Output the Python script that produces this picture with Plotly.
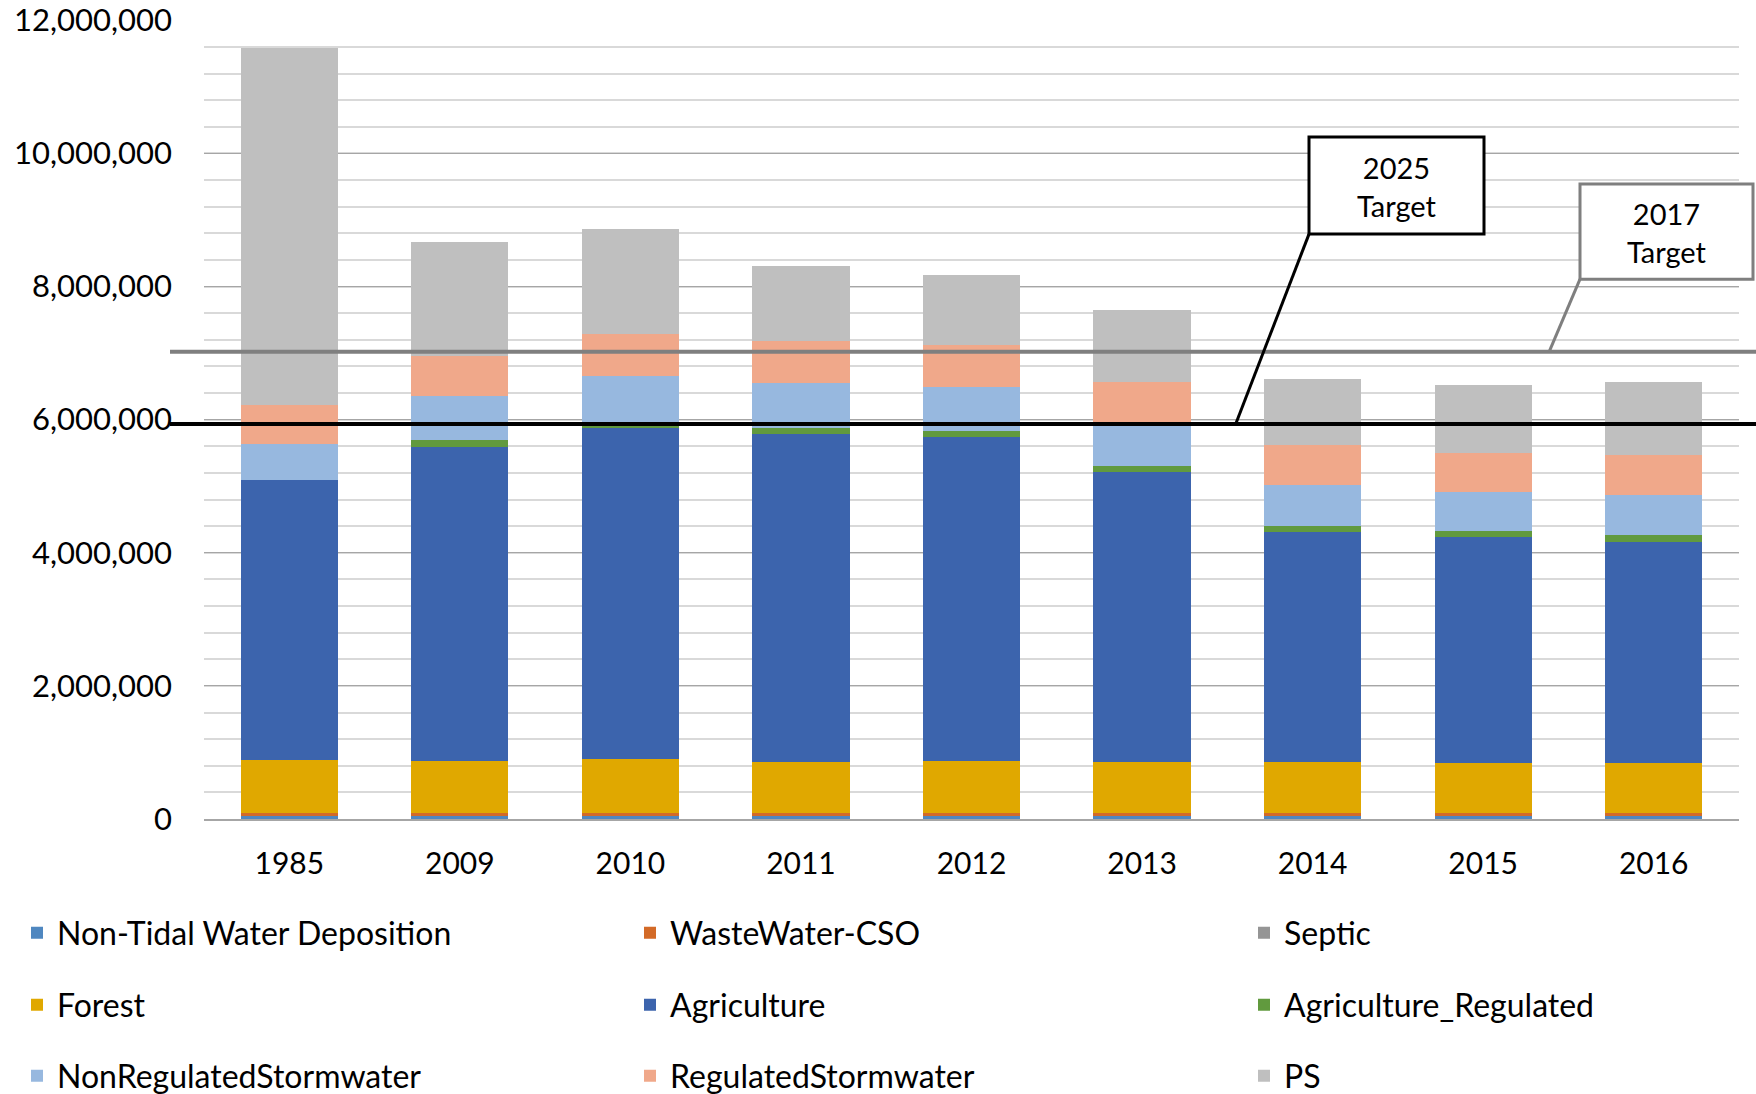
import plotly.graph_objects as go

W, H = 1756, 1094
ML, MR, MT, MB = 204, 17, 20, 275.4

years = ["1985", "2009", "2010", "2011", "2012", "2013", "2014", "2015", "2016"]

non_tidal = [45000, 45000, 45000, 45000, 45000, 45000, 45000, 45000, 45000]
wastewater_cso = [40000, 40000, 40000, 40000, 40000, 40000, 40000, 40000, 40000]
forest = [800000, 785000, 815000, 770000, 785000, 770000, 770000, 755000, 755000]
agriculture = [4208000, 4724000, 4975000, 4924000, 4864000, 4358000, 3461000, 3400000, 3320000]
agriculture_regulated = [0, 95000, 90000, 95000, 96000, 95000, 90000, 91000, 105000]
nonregulated_stormwater = [541000, 662000, 687000, 682000, 661000, 612000, 616000, 581000, 602000]
regulated_stormwater = [592000, 606000, 636000, 632000, 632000, 646000, 602000, 587000, 597000]
septic = [0, 0, 0, 0, 0, 0, 0, 0, 0]
ps = [5354000, 1705000, 1569000, 1113000, 1053000, 1088000, 993000, 1022000, 1102000]

target_2017 = 7020000
target_2025 = 5935000

y_ticks = [0, 2000000, 4000000, 6000000, 8000000, 10000000, 12000000]

# (name, values, color, legend slot) in stacking order; slot = (column, row)
series = [
    ("Non-Tidal Water Deposition", non_tidal, "#4f87c0", (0, 0)),
    ("WasteWater-CSO", wastewater_cso, "#d36a27", (1, 0)),
    ("Forest", forest, "#e0a800", (0, 1)),
    ("Agriculture", agriculture, "#3c64ad", (1, 1)),
    ("Agriculture_Regulated", agriculture_regulated, "#619a3e", (2, 1)),
    ("NonRegulatedStormwater", nonregulated_stormwater, "#97b8df", (0, 2)),
    ("RegulatedStormwater", regulated_stormwater, "#f0a88a", (1, 2)),
    ("Septic", septic, "#959595", (2, 0)),
    ("PS", ps, "#bfbfbf", (2, 2)),
]

FONT = "Lato"
leg_x = [17, 630, 1244]
leg_y = [933, 1005, 1076]

fig = go.Figure()
legends = {}
for i, (name, vals, color, (c, r)) in enumerate(series):
    key = "legend" if i == 0 else f"legend{i + 1}"
    fig.add_trace(go.Bar(x=years, y=vals, name=name, marker=dict(color=color, line=dict(width=0)),
                         legend=key, showlegend=True))
    legends[key] = dict(orientation="h", xref="container", yref="container",
                        x=leg_x[c] / W, y=1 - leg_y[r] / H, xanchor="left", yanchor="middle",
                        font=dict(family=FONT, size=32, color="#000000"), bgcolor="rgba(0,0,0,0)",
                        itemclick=False, itemdoubleclick=False)

pw = W - ML - MR
ph = H - MT - MB


def px(xp):
    return (xp - ML) / pw


def py(yp):
    return (H - MB - yp) / ph


shapes = []
shapes.append(dict(type="line", xref="paper", yref="y", x0=px(170), x1=px(1756),
                   y0=target_2017, y1=target_2017, line=dict(color="#7f7f7f", width=4), layer="above"))
shapes.append(dict(type="line", xref="paper", yref="y", x0=px(170), x1=px(1756),
                   y0=target_2025, y1=target_2025, line=dict(color="#000000", width=4), layer="above"))
shapes.append(dict(type="line", xref="paper", yref="paper", x0=px(1309), y0=py(234), x1=px(1236), y1=py(423),
                   line=dict(color="#000000", width=3), layer="above"))
shapes.append(dict(type="line", xref="paper", yref="paper", x0=px(1580), y0=py(279), x1=px(1549), y1=py(352),
                   line=dict(color="#7f7f7f", width=3), layer="above"))
shapes.append(dict(type="rect", xref="paper", yref="paper", x0=px(1309), x1=px(1484), y0=py(234), y1=py(137),
                   line=dict(color="#000000", width=3), fillcolor="white", layer="above"))
shapes.append(dict(type="rect", xref="paper", yref="paper", x0=px(1580), x1=px(1753), y0=py(279), y1=py(184),
                   line=dict(color="#7f7f7f", width=3), fillcolor="white", layer="above"))

annotations = [
    dict(xref="paper", yref="paper", x=px(1396.5), y=py(186), text="2025<br>Target", showarrow=False,
         font=dict(family=FONT, size=29, color="#000000"), align="center", xanchor="center", yanchor="middle"),
    dict(xref="paper", yref="paper", x=px(1666.5), y=py(232), text="2017<br>Target", showarrow=False,
         font=dict(family=FONT, size=29, color="#000000"), align="center", xanchor="center", yanchor="middle"),
]

fig.update_layout(
    width=W, height=H,
    showlegend=True,
    margin=dict(l=ML, r=MR, t=MT, b=MB, autoexpand=False),
    barmode="stack",
    bargap=0.43,
    plot_bgcolor="white",
    paper_bgcolor="white",
    font=dict(family=FONT, size=29, color="#000000"),
    shapes=shapes,
    annotations=annotations,
    xaxis=dict(showgrid=False, showline=True, linecolor="#a6a6a6", linewidth=1.5, automargin=False,
               tickfont=dict(family=FONT, size=30, color="#000000"), ticklabelstandoff=17, ticks=""),
    yaxis=dict(range=[0, 12004000], tickvals=y_ticks, tickformat=",", showgrid=True, automargin=False,
               gridcolor="#a6a6a6", gridwidth=1.2, zeroline=False, showline=False,
               tickfont=dict(family=FONT, size=31, color="#000000"), ticklabelstandoff=31,
               minor=dict(dtick=400000, showgrid=True, gridcolor="#d9d9d9", gridwidth=1.5)),
    **legends,
)

fig.write_html("out.html", config={"displayModeBar": False},
               post_script="document.body.style.margin='0px';")
